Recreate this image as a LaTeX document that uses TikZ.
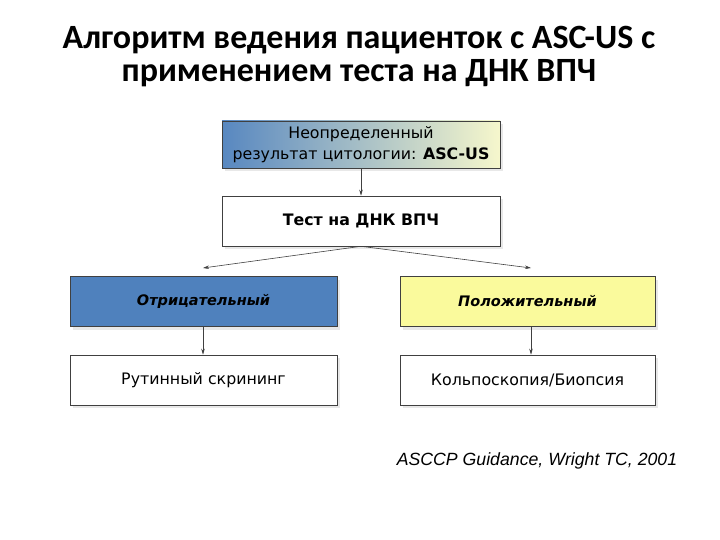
\documentclass[tikz,border=0pt]{standalone}
\usepackage{fontspec}
\setmainfont{DejaVu Sans}
\newfontfamily\titlefont{Carlito}
\newfontfamily\citefont{Liberation Sans}
\usepackage{xcolor}
\usepackage{tikz}
\usetikzlibrary{positioning}
\usetikzlibrary{arrows.meta}
\usetikzlibrary{shadows}

\definecolor{boxblue}{HTML}{4F81BD}
\definecolor{boxyellow}{HTML}{FAFA9C}
\definecolor{gradyellow}{HTML}{F6F7CC}
\definecolor{edgegray}{HTML}{404040}

\begin{document}
\begin{tikzpicture}[x=1pt, y=-1pt,
    box/.style={draw=edgegray, line width=0.6pt, minimum width=#1, minimum height=50pt,
        align=center, font=\fontsize{15.8}{19}\selectfont,
        drop shadow={opacity=0.18, shadow xshift=3pt, shadow yshift=-3pt}},
    box/.default=278pt,
    link/.style={draw=edgegray, line width=0.6pt, -{Stealth[length=6pt, width=3.5pt]}}
    ]
        % Рамка
        \useasboundingbox (0,0) rectangle (720,540);

        % Заголовок
        \node[font=\titlefont\bfseries\fontsize{34}{33}\selectfont, align=center] (title) at (359,57)
            {Алгоритм ведения пациенток с ASC-US с\\применением теста на ДНК ВПЧ};

        % Блоки
        \node[box, minimum height=47pt, font=\fontsize{15.8}{21}\selectfont,
            left color=boxblue!95, right color=gradyellow] (ascus) at (361,144.5)
            {Неопределенный\\результат цитологии: \textbf{ASC-US}};
        \node[box, fill=white, font=\bfseries\fontsize{15.8}{19}\selectfont] (test) at (361,221) {Тест на ДНК ВПЧ};
        \node[box=267pt, fill=boxblue, font=\bfseries\itshape\fontsize{14.5}{17}\selectfont] (neg) at (203.5,301.5) {Отрицательный};
        \node[box=255pt, fill=boxyellow, font=\bfseries\itshape\fontsize{14.5}{17}\selectfont] (pos) at (527.5,301.5) {Положительный};
        \node[box=267pt, fill=white] (routine) at (203.5,380) {Рутинный скрининг};
        \node[box=255pt, fill=white] (colpo) at (527.5,380) {Кольпоскопия/Биопсия};

        % Концы стрелок
        \coordinate (negend) at (203,268);
        \coordinate (posend) at (531,268);

        % Стрелки
        \draw[link] (ascus) -- (test);
        \draw[link] (test.south) -- (negend);
        \draw[link] (test.south) -- (posend);
        \draw[link] (neg.south -| negend) -- (routine.north -| negend);
        \draw[link] (pos.south -| posend) -- (colpo.north -| posend);

        % Источник
        \node[font=\citefont\itshape\fontsize{17.7}{21}\selectfont] (cite) at (537,461) {ASCCP Guidance, Wright TC, 2001};

    \end{tikzpicture}
\end{document}
